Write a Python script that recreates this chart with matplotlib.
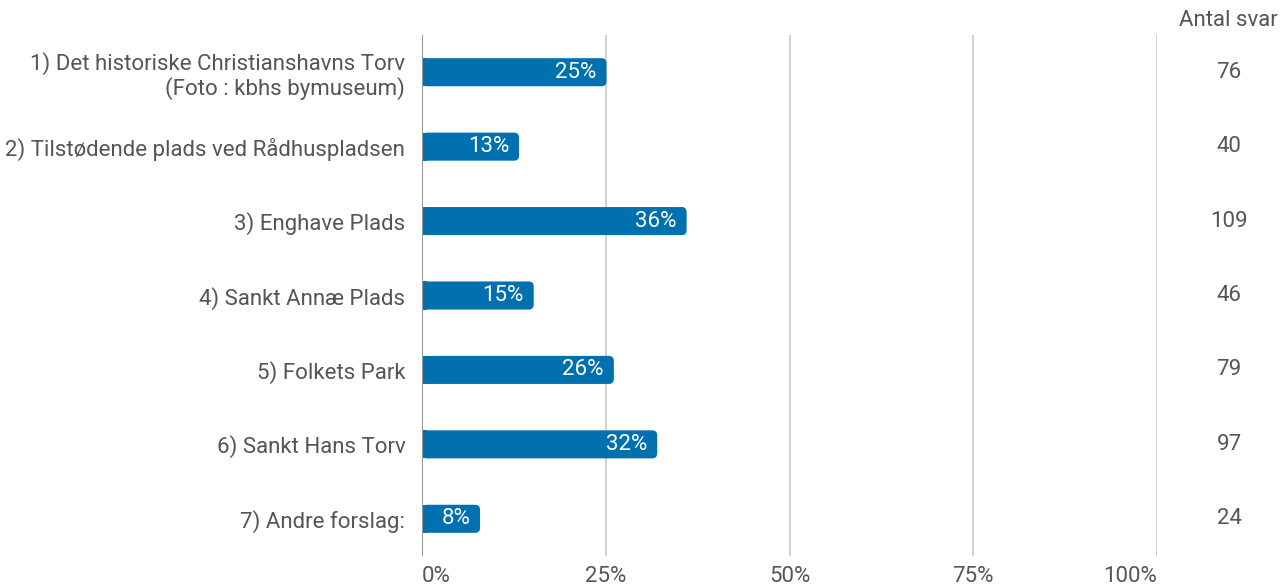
import matplotlib
matplotlib.use("Agg")
import matplotlib.pyplot as plt
from matplotlib.patches import FancyBboxPatch, Rectangle

plt.rcParams['font.family'] = ['Roboto', 'DejaVu Sans']

categories = [
    "1) Det historiske Christianshavns Torv\n(Foto : kbhs bymuseum)",
    "2) Tilstødende plads ved Rådhuspladsen",
    "3) Enghave Plads",
    "4) Sankt Annæ Plads",
    "5) Folkets Park",
    "6) Sankt Hans Torv",
    "7) Andre forslag:",
]
percent_values = [25.1, 13.2, 36.0, 15.2, 26.1, 32.0, 7.9]
percent_labels = ["25%", "13%", "36%", "15%", "26%", "32%", "8%"]
counts = [76, 40, 109, 46, 79, 97, 24]
xticks = [0, 25, 50, 75, 100]
xtick_labels = ["0%", "25%", "50%", "75%", "100%"]
count_header = "Antal svar"

BLUE = "#0070AF"
TXT = "#555555"
GRID = "#c8c8c8"
FS = 16

W, H = 1280, 586
fig = plt.figure(figsize=(W / 100, H / 100), dpi=100)
L, R, T, B = 422, 1157, 35, 556
ax = fig.add_axes([L / W, (H - B) / H, (R - L) / W, (B - T) / H])

n = len(categories)
ypos = list(range(n))
ax.set_xlim(0, 100)
ax.set_ylim(n - 0.5, -0.5)

bars = ax.barh(ypos, percent_values, height=0.377, color=BLUE)

# rounded right ends
px_x = 100 / (R - L)
px_y = n / (B - T)
r_px = 5
r = r_px * px_x
aspect = px_y / px_x
for b in bars:
    x0, y0, w, h = b.get_x(), b.get_y(), b.get_width(), b.get_height()
    b.set_visible(False)
    fb = FancyBboxPatch((x0, y0), w, h,
                        boxstyle=f"round,pad=0,rounding_size={r}",
                        mutation_aspect=aspect, fc=BLUE, ec="none", zorder=3)
    ax.add_patch(fb)
    ax.add_patch(Rectangle((x0, y0), min(r, w), h, fc=BLUE, ec="none", zorder=3))

for y, v, lab in zip(ypos, percent_values, percent_labels):
    ax.text(v - 1.35, y, lab, ha="right", va="center", color="white",
            fontsize=FS, zorder=4)

ax.set_yticks(ypos)
ax.set_yticklabels(categories, fontsize=FS, color=TXT, ha="right",
                   multialignment="right", linespacing=1.1)
ax.tick_params(axis="y", length=0, pad=12)
ax.set_xticks(xticks)
ax.set_xticklabels(xtick_labels, fontsize=FS, color=TXT)
ax.tick_params(axis="x", length=0, pad=7)
xt = ax.get_xticklabels()
xt[0].set_ha("left")
xt[-1].set_ha("right")

for x in xticks[1:]:
    ax.axvline(x, color=GRID, lw=1.2, zorder=1)
ax.axvline(0, color="#9a9a9a", lw=1.5, zorder=5)

for s in ax.spines.values():
    s.set_visible(False)

# counts column
cx = (1229 - L) / (R - L) * 100
for y, c in zip(ypos, counts):
    ax.text(cx, y, str(c), ha="center", va="center", fontsize=FS,
            color=TXT, clip_on=False)
fig.text(1228 / W, 1 - 21 / H, count_header, ha="center", va="center",
         fontsize=FS, color=TXT)

fig.savefig("out.png", dpi=100)
